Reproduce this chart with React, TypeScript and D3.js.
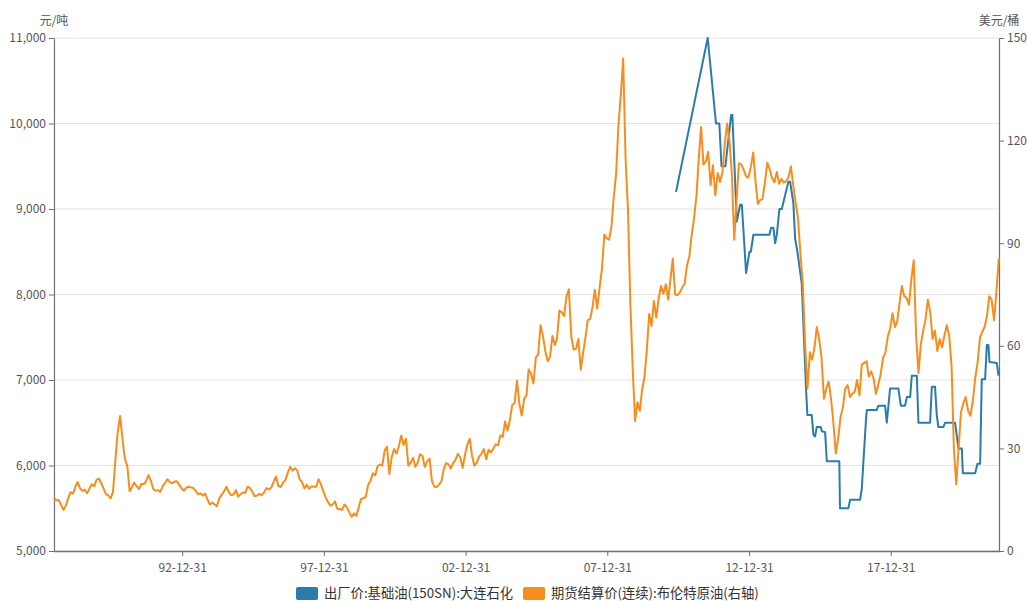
import { useEffect, useRef } from 'react';
import * as d3 from 'd3';

const WIDTH = 1027;
const HEIGHT = 601;
const margin = { top: 38, right: 28, bottom: 50, left: 54 };

const leftTicks = [5000, 6000, 7000, 8000, 9000, 10000, 11000];
const rightTicks = [0, 30, 60, 90, 120, 150];
const xTickDates = ['1992-12-31', '1997-12-31', '2002-12-31', '2007-12-31', '2012-12-31', '2017-12-31'];
const xDomain = ['1988-06-23', '2021-10-26'];

const seriesNames = ['出厂价:基础油(150SN):大连石化', '期货结算价(连续):布伦特原油(右轴)'];
const seriesColors = ['#2b7bab', '#f78d1e'];

// 布伦特原油 monthly, starting 1988-06
const brentStart = '1988-06-23';
const brentMonthly = [
  15.6, 14.8, 14.9, 13.5, 12.0, 13.3, 15.4, // 1988 (Jun-Dec)
  17.2, 16.8, 18.6, 20.2, 18.4, 17.6, 17.9, 16.9, 18.2, 19.5, 18.9, 20.8, // 1989
  21.2, 19.8, 18.3, 16.6, 16.3, 15.4, 17.3, 26.5, 35.0, 39.5, 32.6, 27.0, // 1990
  25.0, 17.5, 18.6, 20.0, 19.0, 18.1, 19.6, 19.6, 20.4, 22.2, 20.6, 18.2, // 1991
  17.6, 17.8, 17.3, 18.9, 19.9, 21.0, 20.2, 19.8, 20.3, 20.4, 19.4, 18.3, // 1992
  17.6, 18.5, 18.8, 18.6, 18.4, 17.6, 16.6, 16.9, 16.2, 16.8, 15.0, 13.6, // 1993
  14.2, 13.6, 13.1, 15.4, 16.4, 17.4, 18.8, 17.3, 16.3, 16.5, 17.8, 15.9, // 1994
  16.6, 17.1, 17.0, 18.8, 18.4, 17.3, 16.0, 16.2, 16.7, 16.3, 17.2, 18.4, // 1995
  18.0, 18.6, 20.2, 21.8, 19.0, 18.7, 20.0, 20.8, 23.0, 24.6, 23.5, 24.2, // 1996
  23.5, 20.8, 20.3, 18.3, 19.4, 18.2, 18.9, 18.8, 18.8, 21.0, 19.5, 17.6, // 1997
  15.6, 14.3, 13.3, 13.6, 14.5, 12.3, 12.3, 12.0, 13.6, 12.8, 11.3, 10.0, // 1998
  11.0, 10.3, 12.6, 15.2, 15.4, 15.8, 19.2, 20.5, 22.7, 22.1, 24.8, 25.3, // 1999
  25.0, 29.5, 30.5, 22.5, 27.5, 29.8, 28.5, 30.6, 33.8, 31.0, 32.8, 25.0, // 2000
  25.8, 27.3, 24.6, 25.8, 28.3, 27.8, 24.6, 26.2, 27.0, 20.5, 18.8, 18.7, // 2001
  19.4, 20.4, 23.8, 25.7, 25.4, 24.1, 25.7, 26.7, 28.4, 27.4, 24.3, 28.0, // 2002
  31.2, 32.8, 28.0, 25.0, 25.8, 27.6, 28.4, 29.8, 26.8, 29.6, 28.8, 29.9, // 2003
  31.2, 30.9, 33.8, 33.4, 37.9, 35.2, 38.2, 42.7, 43.3, 49.8, 43.1, 39.6, // 2004
  44.5, 45.5, 53.1, 51.9, 49.0, 56.5, 57.5, 66.0, 62.9, 58.5, 55.5, 56.7, // 2005
  62.9, 60.2, 62.1, 70.3, 69.8, 68.7, 74.5, 76.5, 62.8, 58.9, 59.1, 62.0, // 2006
  53.0, 58.0, 62.1, 67.5, 67.8, 71.2, 76.4, 70.9, 77.1, 82.4, 92.5, 91.5, // 2007
  91.0, 94.9, 103.3, 110.4, 124.6, 133.5, 144.0, 114.6, 99.6, 72.7, 53.2, 38.0, // 2008
  43.5, 41.0, 47.0, 50.8, 58.6, 69.3, 65.8, 73.1, 68.2, 73.9, 77.5, 75.2, // 2009
  78.0, 73.5, 79.3, 85.5, 75.0, 74.8, 75.6, 77.1, 78.2, 83.5, 86.1, 92.4, // 2010
  97.5, 104.0, 114.6, 124.0, 113.0, 113.9, 116.7, 107.0, 112.8, 104.0, 110.5, 107.9, // 2011
  110.7, 119.3, 125.0, 119.8, 110.3, 91.0, 102.6, 113.4, 113.0, 111.5, 109.5, 109.2, // 2012
  112.3, 116.5, 108.5, 101.5, 102.6, 102.9, 107.7, 113.5, 111.6, 109.1, 107.8, 110.8, // 2013
  107.4, 108.8, 107.7, 108.1, 109.2, 112.5, 106.9, 101.9, 97.3, 87.3, 78.4, 60.5, // 2014
  47.5, 58.1, 55.9, 59.5, 65.5, 61.9, 56.5, 44.5, 47.6, 49.5, 44.3, 37.5, // 2015
  28.5, 33.0, 39.0, 42.0, 47.5, 48.5, 45.0, 46.0, 46.6, 50.0, 45.5, 54.5, // 2016
  55.0, 55.5, 51.0, 52.5, 50.5, 46.0, 48.5, 51.7, 56.5, 58.0, 62.7, 65.0, // 2017
  69.5, 65.5, 67.0, 72.5, 77.5, 74.5, 74.0, 72.0, 79.5, 85.0, 63.0, 52.0, // 2018
  60.5, 64.5, 67.5, 73.5, 70.0, 62.0, 64.5, 58.5, 62.0, 59.5, 63.0, 66.0, // 2019
  63.0, 54.0, 30.0, 19.5, 30.0, 40.5, 43.2, 45.0, 41.0, 39.5, 44.0, 50.5, // 2020
  55.0, 62.5, 64.0, 65.5, 68.5, 74.5, 73.5, 67.5, 76.0, 85.5, // 2021 (Jan-Oct)
];

// 基础油 150SN 大连石化 出厂价 (元/吨)
const baseOilDates = [
  '2010-06-04', '2011-07-17', '2011-11-01', '2011-12-14', '2012-01-11', '2012-03-01', '2012-05-14', '2012-05-30',
  '2012-07-26', '2012-09-07', '2012-09-29', '2012-11-23', '2013-01-05', '2013-01-23', '2013-02-25', '2013-09-19',
  '2013-10-11', '2013-11-10', '2013-12-02', '2013-12-24', '2014-01-26', '2014-02-26', '2014-05-22', '2014-06-13',
  '2014-07-25', '2014-08-16', '2014-09-15', '2014-11-10', '2014-12-01', '2015-01-05', '2015-01-22', '2015-03-19',
  '2015-04-09', '2015-05-01', '2015-05-23', '2015-07-13', '2015-07-26', '2015-09-07', '2015-09-29', '2016-03-08',
  '2016-03-17', '2016-07-03', '2016-07-25', '2016-12-01', '2016-12-23', '2017-01-13', '2017-02-17', '2017-02-26',
  '2017-07-04', '2017-07-25', '2017-10-19', '2017-11-10', '2017-12-22', '2018-04-08', '2018-05-10', '2018-07-04',
  '2018-07-26', '2018-09-07', '2018-09-28', '2018-12-02', '2018-12-23', '2019-05-22', '2019-06-13', '2019-07-25',
  '2019-08-16', '2019-09-06', '2019-11-09', '2019-12-01', '2020-04-08', '2020-05-21', '2020-07-04', '2020-07-17',
  '2020-12-23', '2021-01-21', '2021-02-25', '2021-03-18', '2021-04-30', '2021-05-22', '2021-06-12', '2021-06-25',
  '2021-09-28', '2021-10-19',
];
const baseOilPrices = [
  9200, 11000, 10000, 10000, 9500, 9500, 10100, 10100,
  8850, 9050, 9050, 8250, 8500, 8500, 8700, 8700,
  8780, 8780, 8600, 8700, 9000, 9000, 9320, 9320,
  9070, 8660, 8500, 8130, 7660, 6880, 6590, 6590,
  6360, 6340, 6450, 6450, 6400, 6390, 6050, 6050,
  5500, 5500, 5600, 5600, 5730, 6050, 6570, 6650,
  6650, 6700, 6700, 6500, 6900, 6900, 6700, 6700,
  6800, 6800, 7050, 7050, 6500, 6500, 6920, 6920,
  6590, 6450, 6450, 6500, 6500, 6200, 6200, 5910,
  5910, 6020, 6020, 7010, 7010, 7410, 7410, 7210,
  7200, 7050,
];

const FONT = '"Noto Sans CJK SC", "Microsoft YaHei", sans-serif';

const App = () => {
  const svgRef = useRef<SVGSVGElement>(null);

  useEffect(() => {
    if (!svgRef.current) return;
    const svg = d3.select(svgRef.current);
    svg.selectAll('*').remove();

    const parse = d3.timeParse('%Y-%m-%d');
    const x0 = margin.left;
    const x1 = WIDTH - margin.right;
    const y0 = HEIGHT - margin.bottom;
    const y1 = margin.top;

    const x = d3.scaleTime()
      .domain(xDomain.map(d => parse(d) as Date))
      .range([x0, x1]);
    const yLeft = d3.scaleLinear().domain([5000, 11000]).range([y0, y1]);
    const yRight = d3.scaleLinear().domain([0, 150]).range([y0, y1]);

    const start = parse(brentStart) as Date;
    const brent = brentMonthly.map((v, i) => ({ date: d3.timeMonth.offset(start, i), value: v }));
    const baseOil = baseOilDates.map((d, i) => ({ date: parse(d) as Date, value: baseOilPrices[i] }));

    // grid lines
    svg.append('g')
      .selectAll('line')
      .data(leftTicks)
      .enter().append('line')
      .attr('x1', x0)
      .attr('x2', x1)
      .attr('y1', d => yLeft(d))
      .attr('y2', d => yLeft(d))
      .attr('stroke', '#e3e3e3')
      .attr('stroke-width', 1);

    const styleAxis = (g: d3.Selection<SVGGElement, unknown, null, undefined>) => {
      g.attr('font-family', FONT).attr('font-size', 12);
      g.select('.domain').attr('stroke', '#6e7079').attr('stroke-width', 1.2);
      g.selectAll('.tick line').attr('stroke', '#6e7079');
      g.selectAll('.tick text').attr('fill', '#555');
    };

    // left axis
    svg.append('g')
      .attr('transform', `translate(${x0},0)`)
      .call(d3.axisLeft(yLeft).tickValues(leftTicks).tickFormat(d3.format(',')).tickSize(5).tickSizeOuter(0))
      .call(styleAxis);

    // right axis
    svg.append('g')
      .attr('transform', `translate(${x1},0)`)
      .call(d3.axisRight(yRight).tickValues(rightTicks).tickSize(5).tickSizeOuter(0))
      .call(styleAxis);

    // bottom axis
    const fmt = d3.timeFormat('%y-%m-%d');
    svg.append('g')
      .attr('transform', `translate(0,${y0})`)
      .call(d3.axisBottom(x)
        .tickValues(xTickDates.map(d => parse(d) as Date))
        .tickFormat(d => fmt(d as Date))
        .tickSize(5)
        .tickSizeOuter(0))
      .call(styleAxis)
      .call(g => g.select('.domain').attr('stroke-width', 1.6))
      .call(g => g.selectAll('.tick text').attr('dy', '1.05em'));

    // axis names
    svg.append('text')
      .attr('x', x0)
      .attr('y', 25)
      .attr('text-anchor', 'middle')
      .attr('font-family', FONT)
      .attr('font-size', 12)
      .attr('fill', '#555')
      .text('元/吨');
    svg.append('text')
      .attr('x', x1)
      .attr('y', 25)
      .attr('text-anchor', 'middle')
      .attr('font-family', FONT)
      .attr('font-size', 12)
      .attr('fill', '#555')
      .text('美元/桶');

    // lines
    const baseLine = d3.line<{ date: Date; value: number }>()
      .x(d => x(d.date))
      .y(d => yLeft(d.value));
    const brentLine = d3.line<{ date: Date; value: number }>()
      .x(d => x(d.date))
      .y(d => yRight(d.value));

    svg.append('path')
      .datum(baseOil)
      .attr('fill', 'none')
      .attr('stroke', seriesColors[0])
      .attr('stroke-width', 2)
      .attr('stroke-linejoin', 'round')
      .attr('d', baseLine);

    svg.append('path')
      .datum(brent)
      .attr('fill', 'none')
      .attr('stroke', seriesColors[1])
      .attr('stroke-width', 2)
      .attr('stroke-linejoin', 'round')
      .attr('d', brentLine);

    // legend
    const legendX = [296, 523];
    const legend = svg.append('g');
    seriesNames.forEach((name, i) => {
      legend.append('rect')
        .attr('x', legendX[i])
        .attr('y', 587)
        .attr('width', 22)
        .attr('height', 13)
        .attr('rx', 2)
        .attr('fill', seriesColors[i]);
      legend.append('text')
        .attr('x', legendX[i] + 28)
        .attr('y', 598)
        .attr('font-family', FONT)
        .attr('font-size', 13.3)
        .attr('fill', '#333')
        .text(name);
    });
  }, []);

  return (
    <svg
      ref={svgRef}
      width={WIDTH}
      height={HEIGHT}
      style={{ position: 'absolute', left: 0, top: 0, background: '#fff' }}
    />
  );
};

export default App;
